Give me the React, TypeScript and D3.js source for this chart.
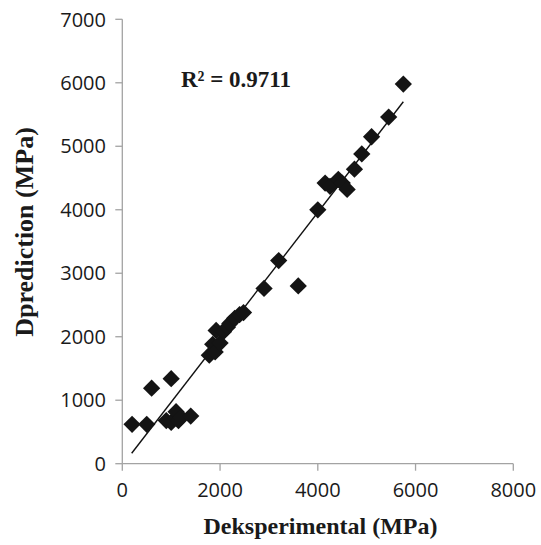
import React from "react";
import * as d3 from "d3";

const expValues = [200, 500, 600, 1000, 900, 1000, 1100, 1150, 1200, 1400,
  1780, 1850, 1900, 1920, 2000, 2070, 2150, 2200, 2300, 2400, 2480,
  2900, 3200, 3600, 4000, 4150, 4250, 4420, 4500, 4600, 4750, 4900, 5100, 5450, 5750];
const predValues = [620, 620, 1190, 1340, 680, 650, 820, 680, 730, 750,
  1710, 1880, 1760, 2100, 1900, 2080, 2150, 2210, 2290, 2350, 2380,
  2760, 3200, 2800, 4000, 4420, 4370, 4480, 4420, 4320, 4640, 4880, 5150, 5460, 5980];
const trendX = [192, 5750];
const trendY = [164, 5702];
const xTicks = [0, 2000, 4000, 6000, 8000];
const yTicks = [0, 1000, 2000, 3000, 4000, 5000, 6000, 7000];
const xLabel = "Deksperimental (MPa)";
const yLabel = "Dprediction (MPa)";
const r2Label = "R² = 0.9711";

export default function App() {
  const W = 541, H = 545;
  const x = d3.scaleLinear().domain([0, 8000]).range([122.3, 513.3]);
  const y = d3.scaleLinear().domain([0, 7000]).range([463.7, 19.3]);
  const axisColor = "#a3a3a3";
  const tickFont = "'Open Sans', sans-serif";
  const serif = "'Liberation Serif', 'Times New Roman', serif";
  const diamond = d3.symbol().type(d3.symbolDiamond2).size(190)();
  const line = d3.line<number>().x((d) => x(trendX[d])).y((d) => y(trendY[d]));
  return (
    <svg width={W} height={H} style={{ position: "absolute", left: 0, top: 0, background: "#fff" }}>
      <line x1={x(0)} x2={x(8000)} y1={y(0)} y2={y(0)} stroke={axisColor} strokeWidth={1.3} />
      <line x1={x(0)} x2={x(0)} y1={y(0)} y2={y(7000)} stroke={axisColor} strokeWidth={1.3} />
      {xTicks.map((t) => (
        <g key={"x" + t}>
          <line x1={x(t)} x2={x(t)} y1={y(0)} y2={y(0) + 7} stroke={axisColor} strokeWidth={1.3} />
          <text x={x(t)} y={497} textAnchor="middle" fontFamily={tickFont} fontSize={20} fill="#1a1a1a">{t}</text>
        </g>
      ))}
      {yTicks.map((t) => (
        <g key={"y" + t}>
          <line x1={x(0) - 7} x2={x(0)} y1={y(t)} y2={y(t)} stroke={axisColor} strokeWidth={1.3} />
          <text x={106} y={y(t)} dy="0.36em" textAnchor="end" fontFamily={tickFont} fontSize={20} fill="#1a1a1a">{t}</text>
        </g>
      ))}
      <path d={line([0, 1]) || ""} stroke="#111" strokeWidth={1.4} fill="none" />
      {expValues.map((v, i) => (
        <path key={i} d={diamond || ""} transform={`translate(${x(v)},${y(predValues[i])})`} fill="#141414" />
      ))}
      <text x={181} y={86.5} fontFamily={serif} fontWeight="bold" fontSize={23} fill="#1a1a1a">{r2Label}</text>
      <text x={320.5} y={534} textAnchor="middle" fontFamily={serif} fontWeight="bold" fontSize={24} fill="#1a1a1a">{xLabel}</text>
      <text transform="translate(33,232) rotate(-90)" textAnchor="middle" fontFamily={serif} fontWeight="bold" fontSize={26} fill="#1a1a1a">{yLabel}</text>
    </svg>
  );
}
